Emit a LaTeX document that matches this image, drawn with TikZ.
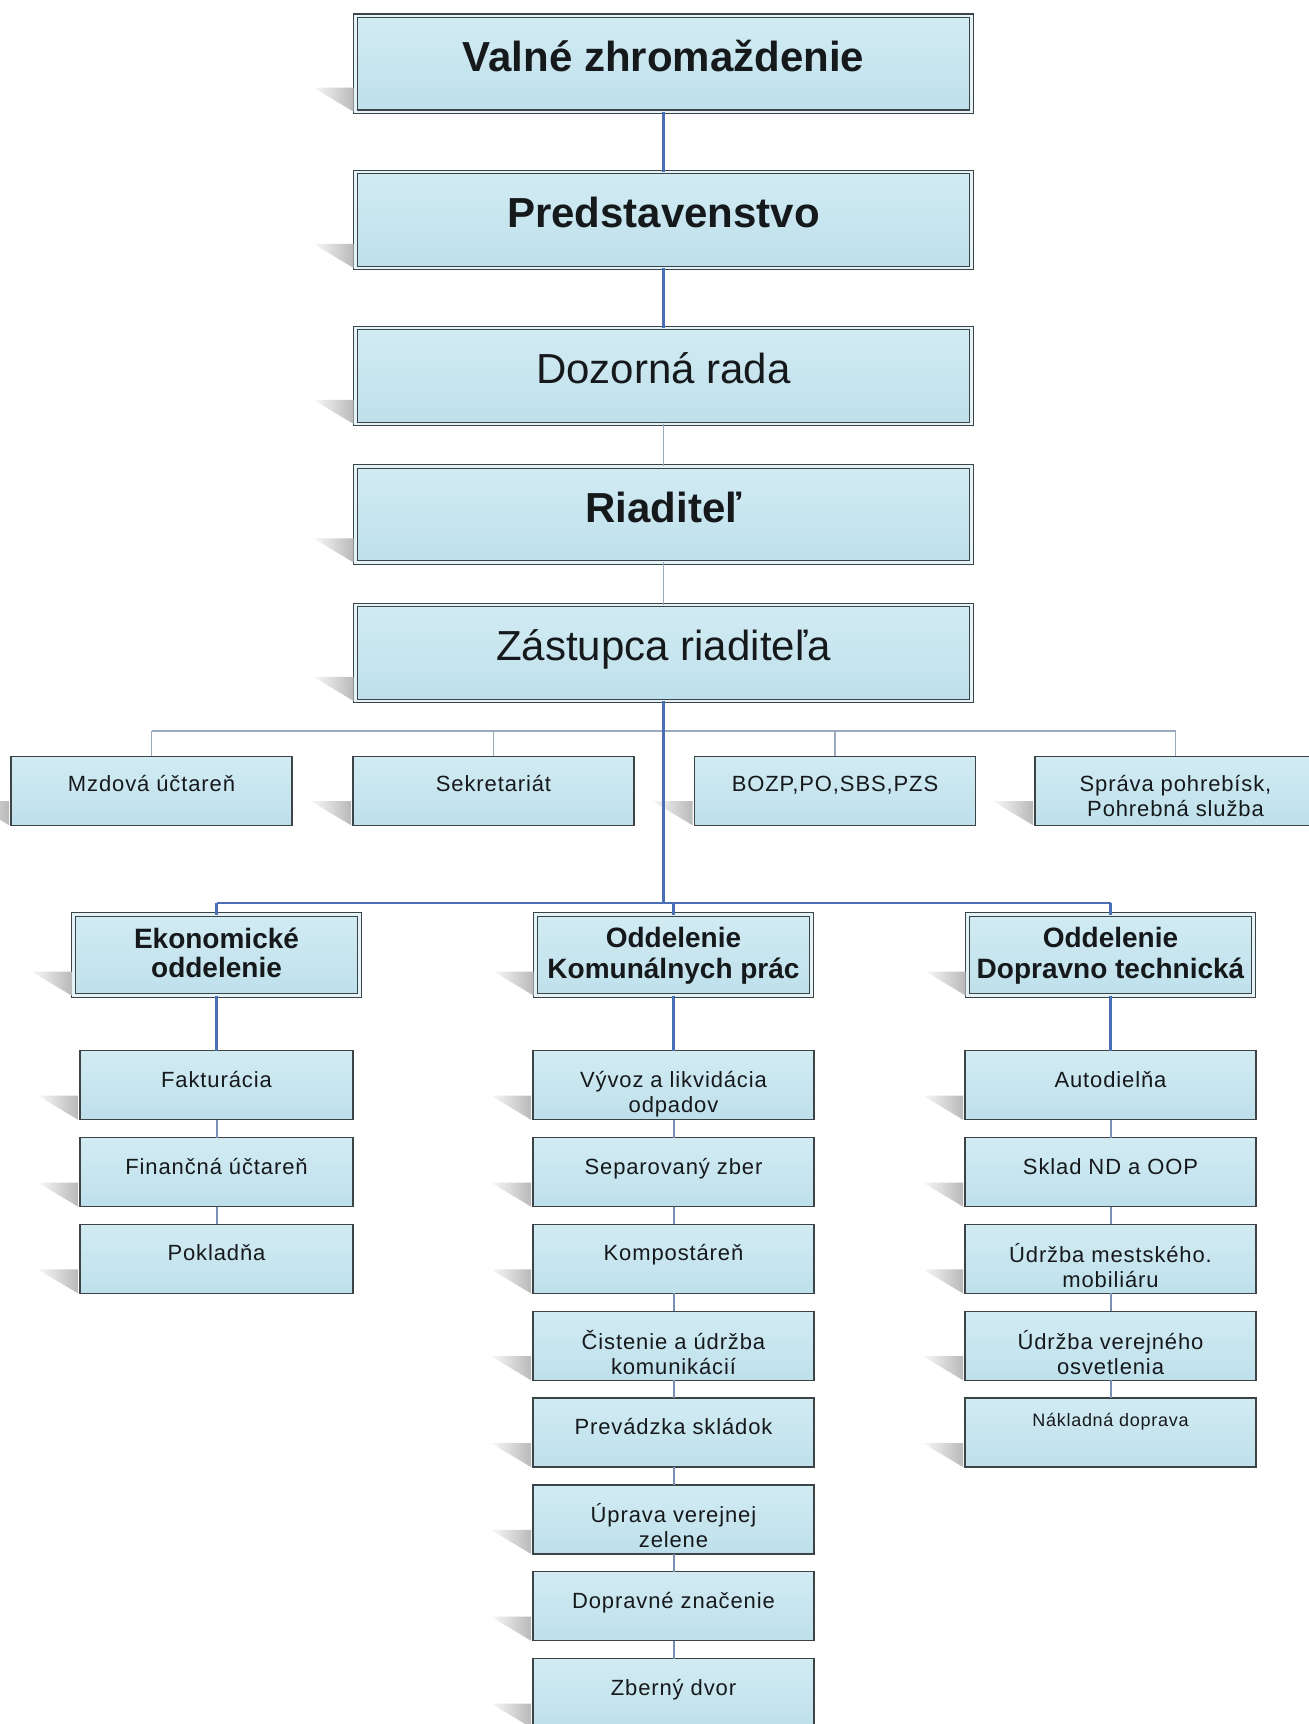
\documentclass[tikz,border=0pt]{standalone}
\usepackage{fontspec}
\setmainfont{Liberation Sans}
\newfontfamily\spacedfont[LetterSpace=4]{Liberation Sans}
\usetikzlibrary{calc}
\definecolor{boxtop}{HTML}{D2EBF3}
\definecolor{boxbot}{HTML}{BEE0EB}
\definecolor{edge}{HTML}{3C4448}
\definecolor{mainblue}{HTML}{4A6FB5}
\definecolor{thinline}{HTML}{9AA9BC}
\definecolor{sublink}{HTML}{7A90B2}
\definecolor{txt}{HTML}{16191C}
\newcommand{\bx}[4]{\parbox[c][#2pt][t]{#1pt}{\centering\vspace*{#3pt}\strut #4\par}}
\newcommand{\dropshadow}[1]{%
  \shade[left color=white!95!gray, right color=gray!55]
    ($(#1.south west)+(-42,-24)$) -- ($(#1.south west)+(-2,-24)$) -- ($(#1.south west)+(-2,0)$) -- cycle;}
\begin{document}
\begin{tikzpicture}[x=1pt,y=-1pt,
  every node/.style={inner sep=0pt, outer sep=0pt, text=txt},
  dblbox/.style={shade, top color=boxtop, bottom color=boxbot, draw=edge, line width=1.2pt,
    double=boxtop!60!white, double distance=2.4pt},
  snglbox/.style={shade, top color=boxtop, bottom color=boxbot, draw=edge, line width=1.4pt},
  topfont/.style={font=\fontsize{42}{50}\selectfont},
  deptfont/.style={font=\fontsize{28}{29}\selectfont\bfseries},
  subfont/.style={font=\spacedfont\fontsize{22}{25}\selectfont},
  smallfont/.style={font=\spacedfont\fontsize{18}{21}\selectfont},
  bluelink/.style={draw=mainblue, line width=2.6pt},
  graylink/.style={draw=thinline, line width=1.6pt},
  sublinkst/.style={draw=sublink, line width=2pt}
]
\useasboundingbox (0,0) rectangle (1309,1724);
\clip (0,0) rectangle (1309,1724);
\fill[white] (0,0) rectangle (1309,1724);

% ---------- top chain ----------
\node[dblbox, topfont] (valne) at (663.5,63.7) {\bx{616}{96}{21}{\bfseries Valné zhromaždenie}};
\node[dblbox, topfont] (pred) at (663.5,219.9) {\bx{616}{96}{21}{\bfseries Predstavenstvo}};
\node[dblbox, topfont] (doz) at (663.5,375.9) {\bx{616}{96}{21}{Dozorná rada}};
\node[dblbox, topfont] (riad) at (663.5,514.4) {\bx{616}{96}{21}{\bfseries Riaditeľ}};
\node[dblbox, topfont] (zast) at (663.5,652.9) {\bx{616}{96}{21}{Zástupca riaditeľa}};

% ---------- staff row ----------
\node[snglbox, subfont] (mzd) at (151.5,790.7) {\bx{281}{69}{18}{Mzdová účtareň}};
\node[snglbox, subfont] (sekr) at (493.5,790.7) {\bx{281}{69}{18}{Sekretariát}};
\node[snglbox, subfont] (bozp) at (835,790.7) {\bx{281}{69}{18}{BOZP,PO,SBS,PZS}};
\node[snglbox, subfont] (sprava) at (1175.5,790.7) {\bx{281}{69}{18}{Správa pohrebísk,\\Pohrebná služba}};

% ---------- departments ----------
\node[dblbox, deptfont] (ekon) at (216.5,955) {\bx{286}{81}{13}{Ekonomické\\oddelenie}};
\node[dblbox, deptfont] (komun) at (673.5,955) {\bx{276}{81}{13}{Oddelenie\\Komunálnych prác}};
\node[dblbox, deptfont] (doprav) at (1110.5,955) {\bx{286}{81}{13}{Oddelenie\\Dopravno technická}};

% ---------- left column ----------
\node[snglbox, subfont] (e1) at (216.5,1085.2) {\bx{273}{69}{19}{Fakturácia}};
\node[snglbox, subfont] (e2) at (216.5,1172.1) {\bx{273}{69}{19}{Finančná účtareň}};
\node[snglbox, subfont] (e3) at (216.5,1258.9) {\bx{273}{69}{19}{Pokladňa}};

% ---------- middle column ----------
\node[snglbox, subfont] (k1) at (673.5,1085.2) {\bx{281}{69}{19}{Vývoz a likvidácia\\odpadov}};
\node[snglbox, subfont] (k2) at (673.5,1172.1) {\bx{281}{69}{19}{Separovaný zber}};
\node[snglbox, subfont] (k3) at (673.5,1258.9) {\bx{281}{69}{19}{Kompostáreň}};
\node[snglbox, subfont] (k4) at (673.5,1345.7) {\bx{281}{69}{19}{Čistenie a údržba\\komunikácií}};
\node[snglbox, subfont] (k5) at (673.5,1432.6) {\bx{281}{69}{19}{Prevádzka skládok}};
\node[snglbox, subfont] (k6) at (673.5,1519.4) {\bx{281}{69}{19}{Úprava verejnej\\zelene}};
\node[snglbox, subfont] (k7) at (673.5,1606.2) {\bx{281}{69}{19}{Dopravné značenie}};
\node[snglbox, subfont] (k8) at (673.5,1693.0) {\bx{281}{69}{19}{Zberný dvor}};

% ---------- right column ----------
\node[snglbox, subfont] (d1) at (1110.5,1085.2) {\bx{291}{69}{19}{Autodielňa}};
\node[snglbox, subfont] (d2) at (1110.5,1172.1) {\bx{291}{69}{19}{Sklad ND a OOP}};
\node[snglbox, subfont] (d3) at (1110.5,1258.9) {\bx{291}{69}{19}{Údržba mestského.\\mobiliáru}};
\node[snglbox, subfont] (d4) at (1110.5,1345.7) {\bx{291}{69}{19}{Údržba verejného\\osvetlenia}};
\node[snglbox, smallfont] (d5) at (1110.5,1432.6) {\bx{291}{69}{14}{Nákladná doprava}};

% ---------- shadows ----------
\foreach \n in {valne,pred,doz,riad,zast,mzd,sekr,bozp,sprava,ekon,komun,doprav,
  e1,e2,e3,k1,k2,k3,k4,k5,k6,k7,k8,d1,d2,d3,d4,d5}{\dropshadow{\n}}

% ---------- connectors ----------
\coordinate (staffbar) at (663.5,730.7);
\coordinate (deptbar) at (663.5,903);
\path[bluelink] (valne.south) -- (pred.north);
\path[bluelink] (pred.south) -- (doz.north);
\path[graylink] (doz.south) -- (riad.north);
\path[graylink] (riad.south) -- (zast.north);
\path[graylink] (mzd.north |- staffbar) -- (sprava.north |- staffbar);
\foreach \n in {mzd,sekr,bozp,sprava}{\path[graylink] (\n.north |- staffbar) -- (\n.north);}
\path[bluelink] (zast.south) -- (deptbar);
\path[bluelink] (ekon.north |- deptbar) -- (doprav.north |- deptbar);
\foreach \n in {ekon,komun,doprav}{\path[bluelink] (\n.north |- deptbar) -- (\n.north);}
\path[bluelink] (ekon.south) -- (e1.north);
\path[bluelink] (komun.south) -- (k1.north);
\path[bluelink] (doprav.south) -- (d1.north);
\path[sublinkst] (e1.south) -- (e2.north);
\path[sublinkst] (e2.south) -- (e3.north);
\path[sublinkst] (k1.south) -- (k2.north);
\path[sublinkst] (k2.south) -- (k3.north);
\path[sublinkst] (k3.south) -- (k4.north);
\path[sublinkst] (k4.south) -- (k5.north);
\path[sublinkst] (k5.south) -- (k6.north);
\path[sublinkst] (k6.south) -- (k7.north);
\path[sublinkst] (k7.south) -- (k8.north);
\path[sublinkst] (d1.south) -- (d2.north);
\path[sublinkst] (d2.south) -- (d3.north);
\path[sublinkst] (d3.south) -- (d4.north);
\path[sublinkst] (d4.south) -- (d5.north);
\end{tikzpicture}
\end{document}
